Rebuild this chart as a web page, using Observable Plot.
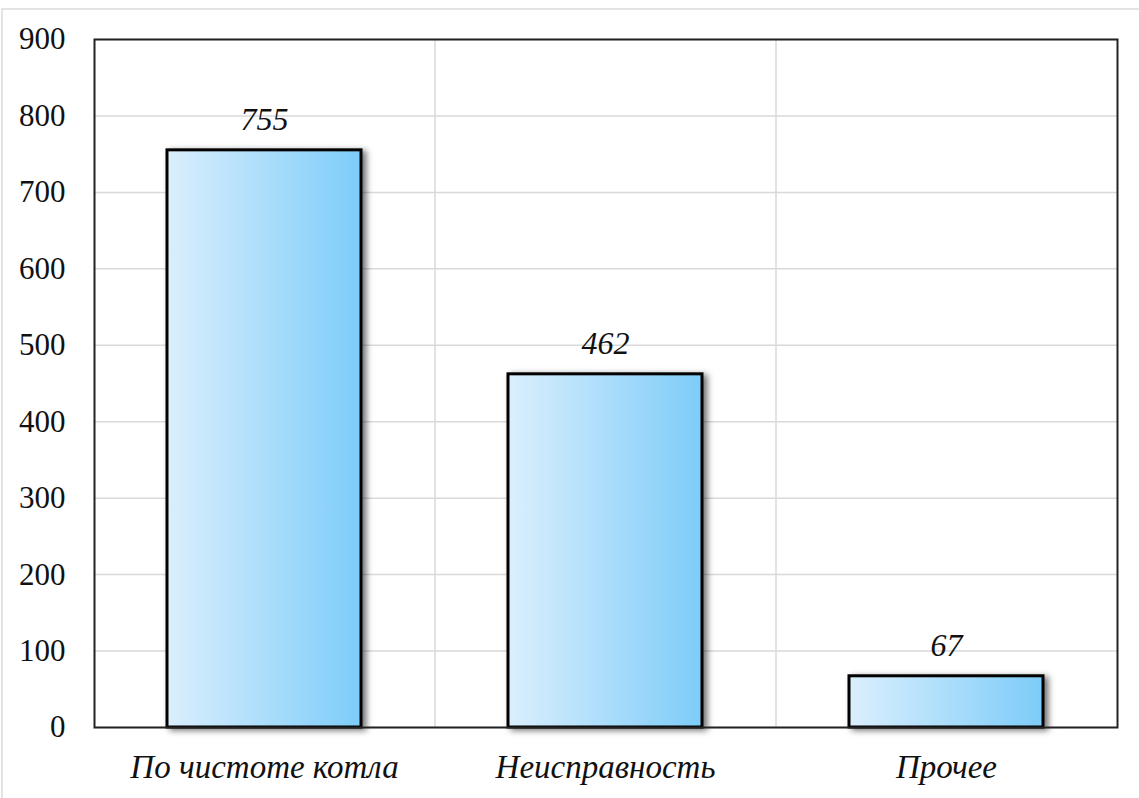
<!DOCTYPE html>
<html>
<head>
<meta charset="utf-8">
<script src="https://cdn.jsdelivr.net/npm/d3@7"></script>
<script src="https://cdn.jsdelivr.net/npm/@observablehq/plot@0.6"></script>
<style>
  html, body { margin: 0; padding: 0; background: #fff; }
  #wrap { position: relative; width: 1139px; height: 798px; overflow: hidden; }
  #edge { position: absolute; left: 1px; top: 8px; right: -5px; bottom: -5px;
          border-top: 2px solid #e3e3e3; border-left: 2px solid #e3e3e3; pointer-events: none; }
</style>
</head>
<body>
<div id="wrap"><div id="edge"></div></div>
<script>
const categories = ["По чистоте котла", "Неисправность", "Прочее"];
const values = [755, 462, 67];
const yTicks = [0, 100, 200, 300, 400, 500, 600, 700, 800, 900];

const data = categories.map((c, i) => ({category: c, value: values[i]}));

const W = 1139, H = 798;
const mL = 94, mR = 22, mT = 39, mB = 71;
const step = (W - mL - mR) / categories.length;

const defs = () => {
  const g = d3.create("svg:defs");
  const lg = g.append("linearGradient").attr("id", "barGrad")
    .attr("x1", "0").attr("x2", "1").attr("y1", "0").attr("y2", "0");
  lg.append("stop").attr("offset", "0%").attr("stop-color", "#dbeffd");
  lg.append("stop").attr("offset", "100%").attr("stop-color", "#7dccf9");
  const f = g.append("filter").attr("id", "barShadow")
    .attr("x", "-10%").attr("y", "-10%").attr("width", "130%").attr("height", "130%");
  f.append("feDropShadow").attr("dx", 4).attr("dy", 2).attr("stdDeviation", 3)
    .attr("flood-color", "#000").attr("flood-opacity", 0.55);
  return g.node();
};

const serif = "Liberation Serif";

const chart = Plot.plot({
  width: W,
  height: H,
  marginLeft: mL,
  marginRight: mR,
  marginTop: mT,
  marginBottom: mB,
  style: {fontFamily: serif, color: "#111", background: "transparent"},
  x: {domain: categories, paddingInner: 0.43, paddingOuter: 0.215, label: null},
  y: {domain: [0, 900], label: null},
  marks: [
    defs,
    Plot.gridY(yTicks, {stroke: "#d9d9d9", strokeOpacity: 1, strokeWidth: 1.5}),
    Plot.ruleX(categories.slice(1), {x: d => d, dx: -step / 2, stroke: "#d9d9d9", strokeWidth: 1.5}),
    Plot.barY(data, {x: "category", y: "value", fill: "url(#barGrad)", stroke: "#000", strokeWidth: 3}),
    Plot.text(data, {x: "category", y: "value", text: d => String(d.value), lineAnchor: "bottom", dy: -20,
      fontSize: 32, fontStyle: "italic", fontFamily: serif, fill: "#111"}),
    Plot.frame({stroke: "#222", strokeWidth: 2}),
    Plot.axisY(yTicks, {tickSize: 0, tickPadding: 29, fontSize: 31, fontFamily: serif, fill: "#111", label: null}),
    Plot.axisX({tickSize: 0, tickPadding: 27, fontSize: 33, fontStyle: "italic", fontFamily: serif, fill: "#111", label: null})
  ]
});

const sel = d3.select(chart);
sel.selectAll("text").style("font-family", serif);
sel.selectAll("g[aria-label='bar']").attr("filter", "url(#barShadow)");
document.getElementById("wrap").prepend(chart);
</script>
</body>
</html>
